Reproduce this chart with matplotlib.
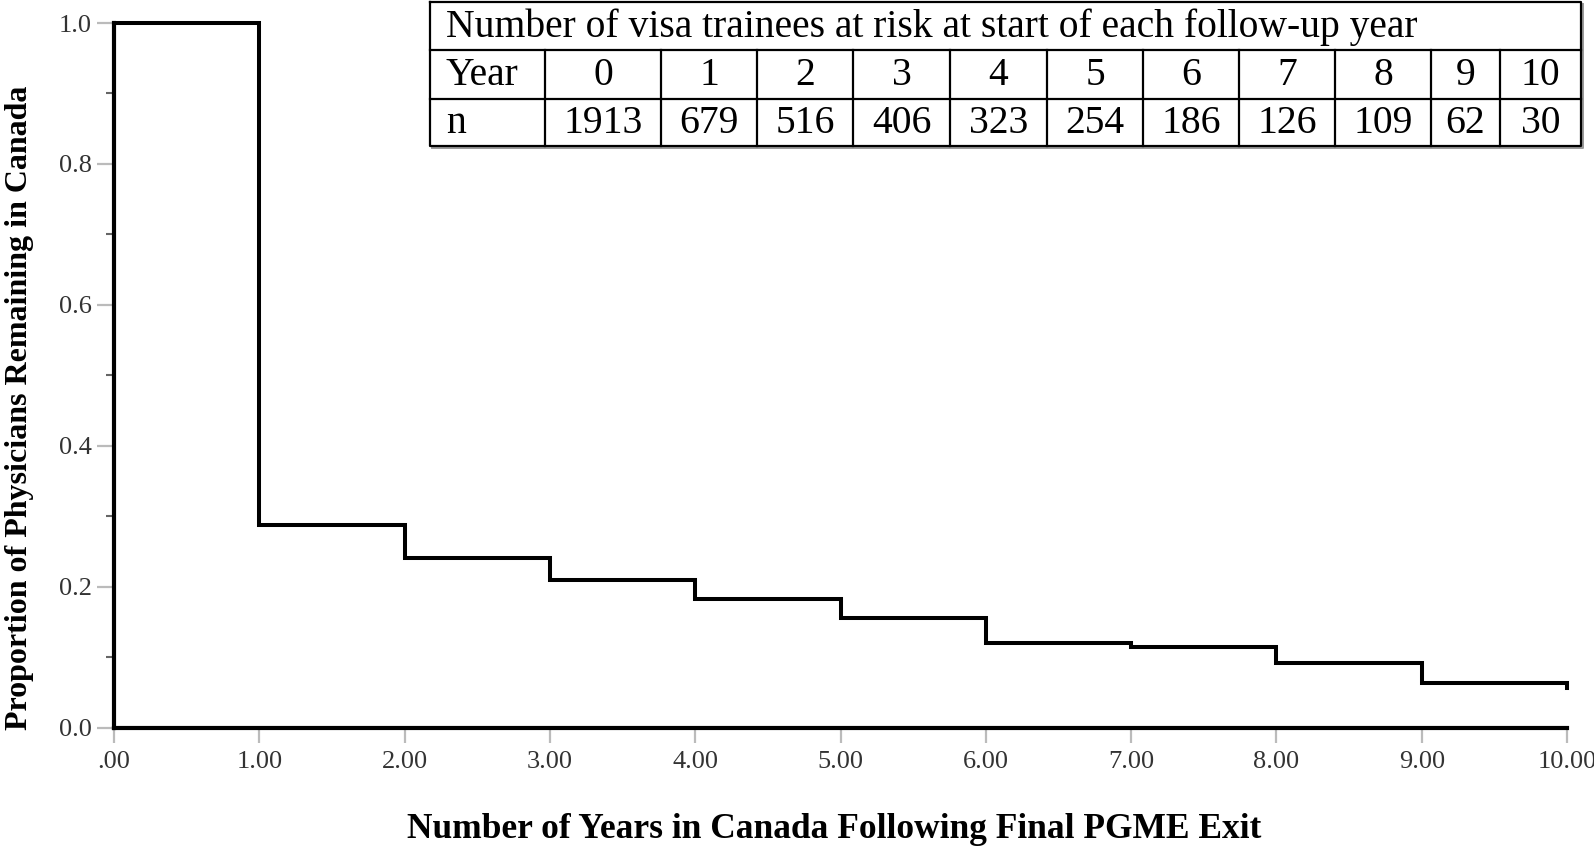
import matplotlib
matplotlib.use("Agg")
import matplotlib.pyplot as plt
from matplotlib.ticker import FixedLocator

# ---- data ----
years = [0, 1, 2, 3, 4, 5, 6, 7, 8, 9, 10]
survival = [1.0, 0.288, 0.240, 0.209, 0.182, 0.156, 0.120, 0.114, 0.091, 0.063, 0.056]
table_title = "Number of visa trainees at risk at start of each follow-up year"
table_years = ["0", "1", "2", "3", "4", "5", "6", "7", "8", "9", "10"]
table_n = ["1913", "679", "516", "406", "323", "254", "186", "126", "109", "62", "30"]
y_ticks = [0.0, 0.2, 0.4, 0.6, 0.8, 1.0]
y_tick_labels = ["0.0", "0.2", "0.4", "0.6", "0.8", "1.0"]
y_minor_ticks = [0.1, 0.3, 0.5, 0.7, 0.9]
x_ticks = [0, 1, 2, 3, 4, 5, 6, 7, 8, 9, 10]
x_tick_labels = [".00", "1.00", "2.00", "3.00", "4.00", "5.00", "6.00", "7.00", "8.00", "9.00", "10.00"]
x_label = "Number of Years in Canada Following Final PGME Exit"
y_label = "Proportion of Physicians Remaining in Canada"

W, H = 1594, 852
fig = plt.figure(figsize=(W / 100, H / 100), dpi=100)
fig.patch.set_facecolor("white")

def px_box(x0, y0, x1, y1):
    return [x0 / W, 1 - y1 / H, (x1 - x0) / W, (y1 - y0) / H]

serif = "Liberation Serif"
tick_size = 19

ax = fig.add_axes(px_box(114, 23, 1567, 727.5))
ax.step(years, survival, where="post", color="black", lw=2.9, clip_on=False,
        solid_joinstyle="miter", zorder=3)
ax.set_xlim(0, 10)
ax.set_ylim(0, 1)
for s in ["top", "right"]:
    ax.spines[s].set_visible(False)
for s in ["left", "bottom"]:
    ax.spines[s].set_linewidth(3.0)
    ax.spines[s].set_color("black")
    ax.spines[s].set_zorder(4)
ax.set_yticks(y_ticks)
ax.set_yticklabels(y_tick_labels)
ax.yaxis.set_minor_locator(FixedLocator(y_minor_ticks))
ax.set_xticks(x_ticks)
ax.set_xticklabels(x_tick_labels)
ax.tick_params(axis="y", which="major", color="#bbbbbb", width=1.6, length=12,
               labelcolor="#333333", labelsize=tick_size, pad=4)
ax.tick_params(axis="x", which="major", color="#bbbbbb", width=1.6, length=11,
               labelcolor="#333333", labelsize=tick_size, pad=6)
ax.tick_params(axis="y", which="minor", color="#666666", width=1.5, length=6)
for lab in ax.get_xticklabels() + ax.get_yticklabels():
    lab.set_fontfamily(serif)

fig.text(834 / W, 1 - 830 / H, x_label, fontfamily=serif, fontweight="bold",
         fontsize=25.5, ha="center", va="center")
fig.text(20 / W, 1 - 408 / H, y_label, fontfamily=serif, fontweight="bold",
         fontsize=23, ha="center", va="center", rotation=90)

# ---- at-risk table ----
col_edges = [430, 545, 661, 757, 853, 950, 1047, 1143, 1239, 1335, 1431, 1500, 1581]
row_edges = [2, 50, 99, 146]
tax = fig.add_axes(px_box(0, 0, W, H))
tax.set_xlim(0, W)
tax.set_ylim(H, 0)
tax.axis("off")
tax.fill_between([col_edges[0], col_edges[-1]], row_edges[0], row_edges[-1], color="white", zorder=1)
lw = 1.6
tax.plot([col_edges[0] + 2, col_edges[-1] + 2, col_edges[-1] + 2],
         [row_edges[-1] + 2, row_edges[-1] + 2, row_edges[0] + 2],
         color="#999999", lw=1.4, zorder=1.5)
tax.plot([col_edges[0], col_edges[-1], col_edges[-1], col_edges[0], col_edges[0]],
         [row_edges[0], row_edges[0], row_edges[-1], row_edges[-1], row_edges[0]],
         color="black", lw=lw, zorder=2)
for r in row_edges[1:-1]:
    tax.plot([col_edges[0], col_edges[-1]], [r, r], color="black", lw=lw, zorder=2)
for c in col_edges[1:-1]:
    tax.plot([c, c], [row_edges[1], row_edges[-1]], color="black", lw=lw, zorder=2)
fs_t = 28.5
tx = col_edges[0] + 16
tax.text(tx, (row_edges[0] + row_edges[1]) / 2 + 1, table_title,
         fontfamily=serif, fontsize=fs_t, ha="left", va="center", zorder=3)
tax.text(tx, (row_edges[1] + row_edges[2]) / 2 + 1, "Year",
         fontfamily=serif, fontsize=fs_t, ha="left", va="center", zorder=3)
tax.text(tx, (row_edges[2] + row_edges[3]) / 2 + 1, "n",
         fontfamily=serif, fontsize=fs_t, ha="left", va="center", zorder=3)
for i, (yr, n) in enumerate(zip(table_years, table_n)):
    cx = (col_edges[i + 1] + col_edges[i + 2]) / 2
    tax.text(cx, (row_edges[1] + row_edges[2]) / 2 + 1, yr, fontfamily=serif,
             fontsize=fs_t, ha="center", va="center", zorder=3)
    tax.text(cx, (row_edges[2] + row_edges[3]) / 2 + 1, n, fontfamily=serif,
             fontsize=fs_t, ha="center", va="center", zorder=3)

fig.savefig("out.png", dpi=100, facecolor="white")
